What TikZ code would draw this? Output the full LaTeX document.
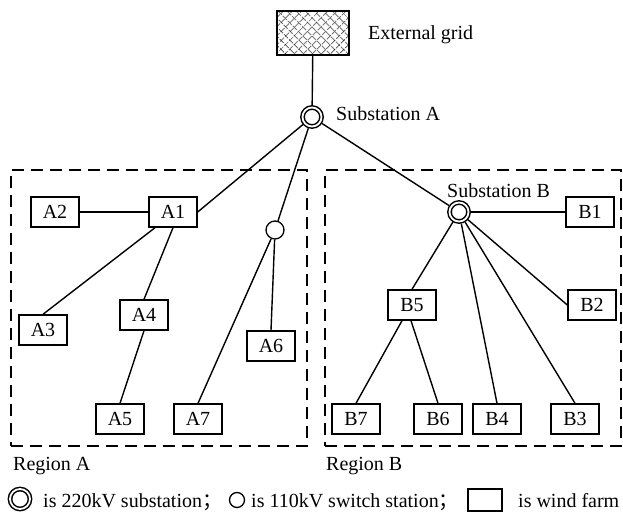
\documentclass[tikz,border=0pt]{standalone}
\usepackage{fontspec}
\setmainfont{Liberation Serif}
\newfontfamily\cjkfont{Noto Sans CJK SC}
\usetikzlibrary{patterns.meta}
\begin{document}
\begin{tikzpicture}[x=1pt,y=-1pt,
  font=\fontsize{20}{24}\selectfont,
  wf/.style={draw, line width=1.4pt, minimum width=48pt, minimum height=30pt, inner sep=0pt},
  sub/.style={circle, draw, line width=1.5pt, double, double distance=1.8pt, minimum size=19pt, inner sep=0pt, outer sep=2.3pt},
  sw/.style={circle, draw, line width=1.3pt, minimum size=18pt, inner sep=0pt},
  gridbox/.style={draw, line width=1.4pt, minimum width=72pt, minimum height=44pt, inner sep=0pt,
    preaction={pattern={Lines[angle=45,distance=6.4pt,line width=0.9pt]}},
    pattern={Lines[angle=-45,distance=6.4pt,line width=0.9pt]}},
  conn/.style={line width=1.4pt},
  region/.style={draw, line width=1.5pt, dash pattern=on 12pt off 7pt, inner sep=0pt},
  lbl/.style={anchor=base west, inner sep=0pt}]
\useasboundingbox (0,0) rectangle (623,519);

% regions
\node[region, minimum width=296pt, minimum height=276pt] (regA) at (159,308) {};
\node[region, minimum width=296pt, minimum height=276pt] (regB) at (473,308) {};

% main nodes
\node[gridbox] (grid) at (313,33) {};
\node[sub] (sa) at (312,117) {};
\node[sub] (sb) at (459,212) {};
\node[sw] (sw) at (275,230) {};

\node[wf] (A1) at (173,212) {A1};
\node[wf] (A2) at (55,212) {A2};
\node[wf] (A3) at (43,330) {A3};
\node[wf] (A4) at (144,315) {A4};
\node[wf] (A5) at (120,419) {A5};
\node[wf] (A6) at (271,346) {A6};
\node[wf] (A7) at (198,419) {A7};

\node[wf] (B1) at (590,212) {B1};
\node[wf] (B2) at (592,305) {B2};
\node[wf] (B5) at (412,305) {B5};
\node[wf] (B7) at (356,419) {B7};
\node[wf] (B6) at (438,419) {B6};
\node[wf] (B4) at (497,419) {B4};
\node[wf] (B3) at (575,419) {B3};

% connectors
\draw[conn] (grid) -- (sa);
\draw[conn] (sa) -- (A1.east);
\draw[conn] (sa) -- (sw);
\draw[conn] (sa) -- (sb);
\draw[conn] (A1) -- (A2);
\draw[conn] ([xshift=-18pt]A1.south) -- (A3.north);
\draw[conn] (A1.south) -- (A4.north);
\draw[conn] (A4.south) -- (A5.north);
\draw[conn] (sw) -- (A7.north);
\draw[conn] (sw) -- (A6.north);
\draw[conn] (sb) -- (B1);
\draw[conn] (sb) -- (B2.west);
\draw[conn] (sb) -- (B5.north);
\draw[conn] (sb) -- (B4.north);
\draw[conn] (sb) -- (B3.north);
\draw[conn] ([xshift=-10pt]B5.south) -- (B7.north);
\draw[conn] ([xshift=-1pt]B5.south) -- (B6.north);

% labels
\node[lbl] (tgrid) at (368,40) {External grid};
\node[lbl] (tsa) at (336,120) {Substation A};
\node[lbl] (tsb) at (447,197) {Substation B};
\node[lbl] (tra) at (13,470) {Region A};
\node[lbl] (trb) at (326,470) {Region B};

% legend
\node[sub, minimum size=20pt] (lsub) at (20,499) {};
\node[lbl] (l1) at (43,507) {is 220kV substation{\cjkfont ；}};
\node[sw, minimum size=15pt] (lsw) at (237,500) {};
\node[lbl] (l2) at (251,507) {is 110kV switch station{\cjkfont ；}};
\node[draw, line width=1.4pt, minimum width=34pt, minimum height=22pt, inner sep=0pt] (lwf) at (485,500) {};
\node[lbl] (l3) at (518,507) {is wind farm};
\end{tikzpicture}
\end{document}
